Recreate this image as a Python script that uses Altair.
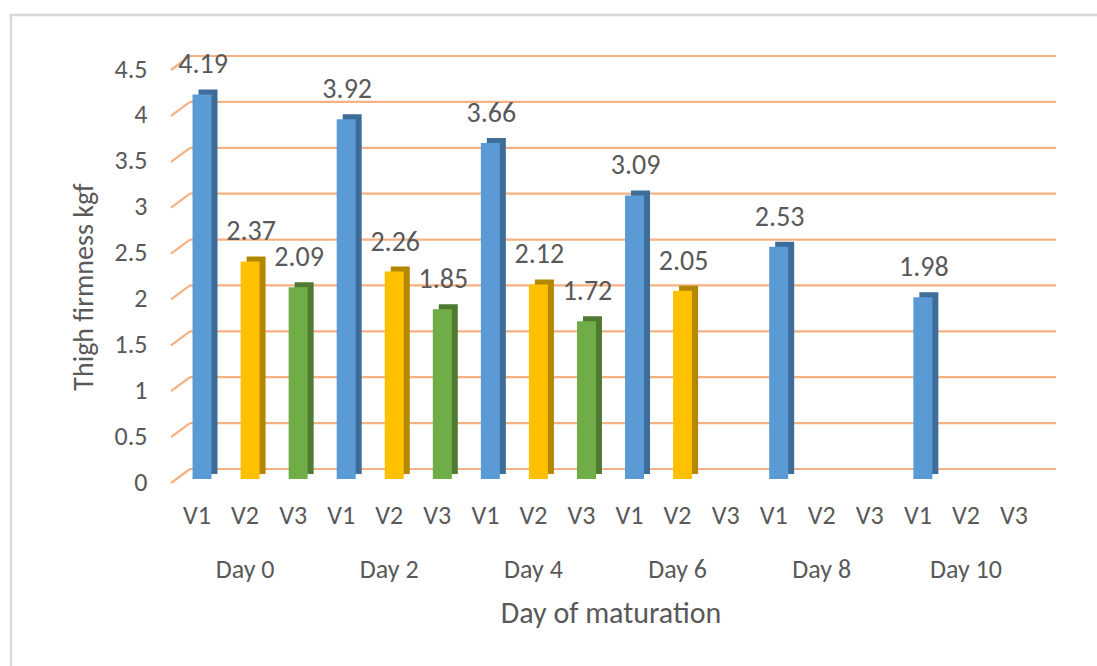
import altair as alt
import pandas as pd

days = ["Day 0", "Day 2", "Day 4", "Day 6", "Day 8", "Day 10"]
varieties = ["V1", "V2", "V3"]
v1_values = [4.19, 3.92, 3.66, 3.09, 2.53, 1.98]
v2_values = [2.37, 2.26, 2.12, 2.05, None, None]
v3_values = [2.09, 1.85, 1.72, None, None, None]
y_ticks = [0, 0.5, 1, 1.5, 2, 2.5, 3, 3.5, 4, 4.5]

front_colors = ["#5B9BD5", "#FFC000", "#70AD47"]
side_colors = ["#3E6D99", "#B38700", "#4E7B31"]

FONT = "Carlito, Calibri, Lato, sans-serif"
GRAY = "#595959"
GRID = "#F4B183"
W, H = 865, 413

rows = []
for i, d in enumerate(days):
    for v, series in zip(varieties, [v1_values, v2_values, v3_values]):
        val = series[i]
        if val is not None:
            rows.append({"key": f"{d}|{v}", "day": d, "variety": v, "value": val})
df = pd.DataFrame(rows)
domain = [f"{d}|{v}" for d in days for v in varieties]
grid_df = pd.DataFrame({"g": y_ticks})

xscale = alt.Scale(domain=domain, paddingInner=0, paddingOuter=0)
yscale = alt.Scale(domain=[0, 4.5], nice=False)

label_expr = ("split(datum.value, '|')[1] == 'V2' ? "
              "[split(datum.value, '|')[1], split(datum.value, '|')[0]] : "
              "split(datum.value, '|')[1]")

x_axis = alt.Axis(
    title="Day of maturation", labelExpr=label_expr, labelAngle=0,
    labelFont=FONT, labelFontSize=26, labelColor=GRAY, labelLineHeight=54,
    labelPadding=23, labelOffset=-5, ticks=False, domain=False, grid=False,
    titleFont=FONT, titleFontSize=30, titleFontWeight="normal", titleColor=GRAY,
    titlePadding=16, zindex=1,
)
y_axis = alt.Axis(
    title="Thigh firmness kgf", values=y_ticks, format="~g", labelFont=FONT,
    labelFontSize=26, labelColor=GRAY, labelPadding=31, labelOffset=3,
    ticks=False, domain=False, grid=False, titleFont=FONT, titleFontSize=28,
    titleFontWeight="normal", titleColor=GRAY, titleX=-94, titleY=H / 2 + 14,
    titleBaseline="middle", titleAlign="center", titleAngle=-90, zindex=1,
)

border = alt.Chart(pd.DataFrame({"a": [0]})).mark_rect(
    fillOpacity=0, stroke="#D9D9D9", strokeWidth=2.5
).encode(
    x=alt.value(-167), x2=alt.value(W + 80), y=alt.value(-51), y2=alt.value(H + 250)
)

gridlines = alt.Chart(grid_df).mark_rule(color=GRID, strokeWidth=2.2, yOffset=-10).encode(
    y=alt.Y("g:Q", scale=yscale), x=alt.value(12), x2=alt.value(W + 13)
)
diagonals = alt.Chart(grid_df).mark_rule(
    color=GRID, strokeWidth=2.2, yOffset=4, y2Offset=-10
).encode(
    y=alt.Y("g:Q", scale=yscale), y2="g:Q", x=alt.value(-7), x2=alt.value(12)
)

color_side = alt.Color("variety:N", scale=alt.Scale(domain=varieties, range=side_colors), legend=None)
color_front = alt.Color("variety:N", scale=alt.Scale(domain=varieties, range=front_colors), legend=None)

base = alt.Chart(df)
side = base.mark_bar(width=19, xOffset=6, yOffset=-5).encode(
    x=alt.X("key:N", scale=xscale, axis=x_axis, sort=domain),
    y=alt.Y("value:Q", scale=yscale, axis=y_axis),
    color=color_side,
)
front = base.mark_bar(width=19).encode(
    x=alt.X("key:N", scale=xscale, sort=domain),
    y=alt.Y("value:Q", scale=yscale),
    color=color_front,
)
labels = base.mark_text(
    font=FONT, fontSize=28, color=GRAY, baseline="alphabetic", dy=-21, dx=1
).encode(
    x=alt.X("key:N", scale=xscale, sort=domain),
    y=alt.Y("value:Q", scale=yscale),
    text=alt.Text("value:Q", format=".2f"),
)

chart = alt.layer(border, gridlines, diagonals, side, front, labels).resolve_scale(
    color="independent"
).properties(
    width=W, height=H, background="white",
    autosize=alt.AutoSizeParams(type="none"),
    padding={"left": 178, "top": 66, "right": 1097 - 178 - W, "bottom": 666 - 66 - H},
).configure_view(strokeWidth=0, stroke="transparent")

chart.save("out.html", embed_options={"renderer": "svg", "actions": False})
